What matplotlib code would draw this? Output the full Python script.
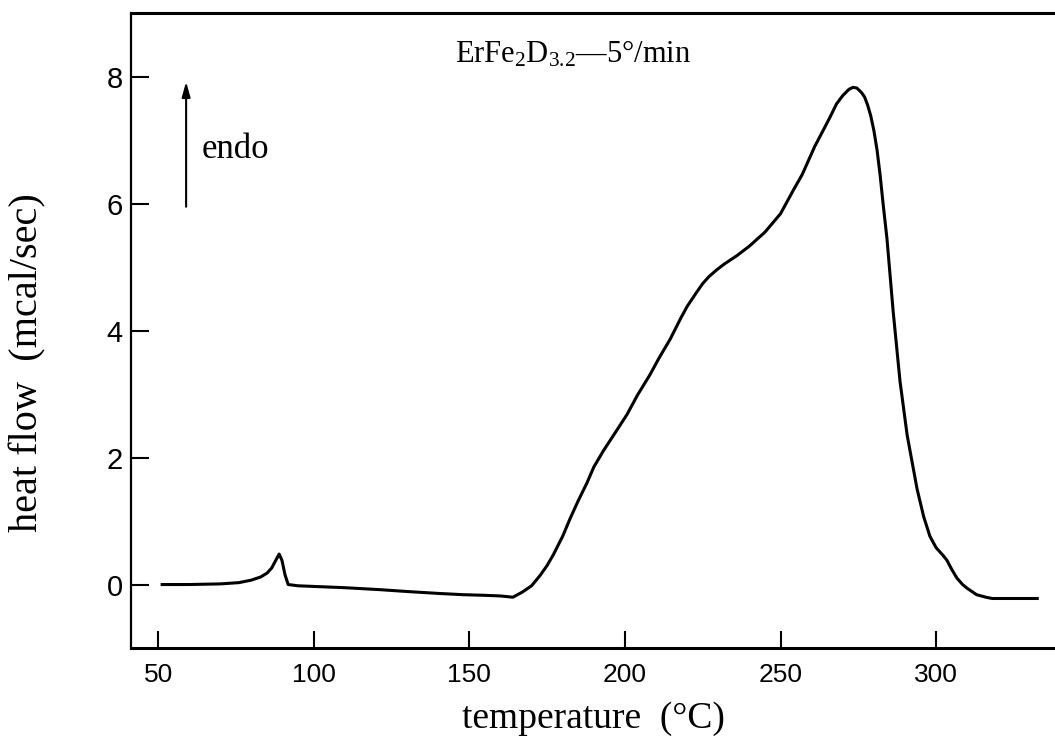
import matplotlib
matplotlib.use("Agg")
import matplotlib.pyplot as plt

# DSC trace
temperature = [51.3, 60, 70, 76, 80, 83, 85, 86.5, 87.8, 88.9, 89.8, 90.8, 91.8,
               95, 100, 110, 121, 130, 140, 148, 155, 160, 164, 167, 170, 172.7,
               175, 177, 180, 182.4, 185, 187.8, 190, 193, 197, 200.7, 204, 208,
               211, 214.5, 218, 220, 223, 225, 227, 229.6, 232, 236, 240, 245,
               250, 254, 257, 261, 264, 266, 268, 270, 272, 273.3, 274.5, 276,
               277, 278, 279, 280, 281, 282, 283, 284.2, 286.2, 288.4, 290.7,
               293.9, 296, 298, 300, 302.2, 303.5, 305, 306.7, 308.5, 310, 313,
               316, 318, 325, 332.5]
heat_flow = [0.0, 0.0, 0.01, 0.03, 0.07, 0.12, 0.18, 0.26, 0.38, 0.48, 0.38, 0.15, 0.0,
             -0.02, -0.03, -0.05, -0.08, -0.11, -0.14, -0.16, -0.17, -0.18, -0.20, -0.12, -0.02, 0.14,
             0.30, 0.47, 0.76, 1.04, 1.32, 1.60, 1.85, 2.10, 2.40, 2.68, 2.98, 3.30,
             3.57, 3.86, 4.20, 4.38, 4.60, 4.74, 4.85, 4.96, 5.05, 5.18, 5.33, 5.55,
             5.84, 6.20, 6.46, 6.90, 7.18, 7.37, 7.57, 7.70, 7.80, 7.83, 7.82, 7.75,
             7.68, 7.55, 7.38, 7.15, 6.85, 6.45, 5.98, 5.45, 4.30, 3.20, 2.35,
             1.50, 1.07, 0.76, 0.58, 0.46, 0.38, 0.24, 0.10, 0.00, -0.06, -0.16,
             -0.20, -0.22, -0.22, -0.22]

xticks = [50, 100, 150, 200, 250, 300]
yticks = [0, 2, 4, 6, 8]

plt.rcParams['mathtext.fontset'] = 'custom'
plt.rcParams['mathtext.rm'] = 'Liberation Serif'
plt.rcParams['mathtext.it'] = 'Liberation Serif:italic'

serif = ['Liberation Serif', 'DejaVu Serif']
sans = ['Liberation Sans', 'DejaVu Sans']

fig = plt.figure(figsize=(10.55, 7.47), dpi=100)
ax = fig.add_axes([0.1242, 0.1325, 0.8758, 0.850])

ax.plot(temperature, heat_flow, color='black', lw=2.2, solid_joinstyle='round')

ax.set_xlim(41.3, 338.2)
ax.set_ylim(-1.0, 9.0)
ax.set_xticks(xticks)
ax.set_yticks(yticks)

ax.spines['right'].set_visible(False)
ax.spines['left'].set_linewidth(1.6)
ax.spines['bottom'].set_linewidth(2.2)
ax.spines['top'].set_linewidth(2.2)

ax.tick_params(axis='x', direction='in', length=12.5, width=1.5, pad=11,
               top=False, labelsize=19)
ax.tick_params(axis='y', direction='in', length=13, width=1.5, pad=6,
               right=False, labelsize=21)
for lab in ax.get_xticklabels() + ax.get_yticklabels():
    lab.set_family(sans)

ax.set_xlabel('temperature  (°C)', family=serif, fontsize=27, labelpad=10)
ax.set_ylabel('heat flow  (mcal/sec)', family=serif, fontsize=29)
ax.yaxis.set_label_coords(-0.092, 0.45)

ax.text(145.4, 8.22, 'ErFe$_2$D$_{3.2}$—5°/min', family=serif, fontsize=22,
        ha='left', va='baseline')

ax.annotate('', xy=(59, 7.92), xytext=(59, 5.95),
            arrowprops=dict(arrowstyle='-|>,head_length=0.9,head_width=0.25',
                            color='black', lw=1.5, shrinkA=0, shrinkB=0))
ax.text(64.1, 6.72, 'endo', family=serif, fontsize=25, ha='left', va='baseline')

fig.savefig('out.png', dpi=100)
